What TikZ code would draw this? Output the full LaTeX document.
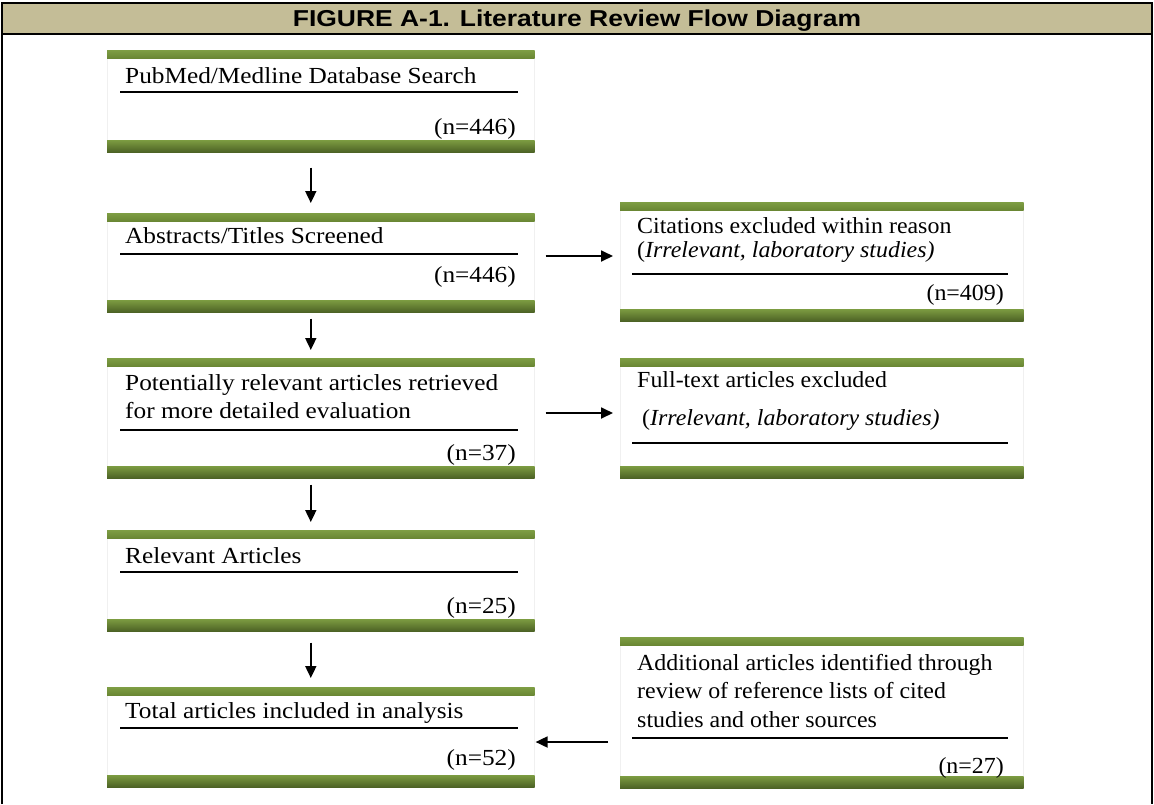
\documentclass[tikz,border=0pt]{standalone}
\usepackage{fontspec}
\setmainfont{Liberation Serif}[FakeStretch=1.1]
\newfontfamily\rightfont{Liberation Serif}[FakeStretch=1.04]
\newfontfamily\titlefont{Liberation Sans}[FakeStretch=1.15]
\usetikzlibrary{calc,arrows.meta}
\definecolor{headtan}{HTML}{C4BD97}
\definecolor{barA}{HTML}{7E9E44}
\definecolor{barB}{HTML}{6A8734}
\definecolor{barC}{HTML}{7A9940}
\definecolor{barD}{HTML}{4B6024}
\tikzset{
  boxshape/.style={rectangle, draw=gray!12, line width=0.6pt, fill=white, inner sep=0pt},
  txt/.style={anchor=base west, inner sep=0pt, font=\fontsize{23}{28}\selectfont},
  ntxt/.style={anchor=base east, inner sep=0pt, font=\fontsize{23}{28}\selectfont},
  rtxt/.style={anchor=base west, inner sep=0pt, font=\rightfont\fontsize{23}{28}\selectfont},
  rntxt/.style={anchor=base east, inner sep=0pt, font=\rightfont\fontsize{23}{28}\selectfont},
  uline/.style={line width=2pt, black},
  arr/.style={line width=1.8pt, -{Triangle[length=12pt,width=11pt]}},
}
\newcommand\flowbox[5]{%
  \node[boxshape, minimum width=#4pt, minimum height=#5pt, anchor=north west] (#1) at (#2,#3) {};
  \shade[top color=barA, bottom color=barB] (#1.north west) rectangle ([yshift=-8pt]#1.north east);
  \shade[top color=barC, bottom color=barD] ([yshift=12pt]#1.south west) rectangle (#1.south east);
}
\begin{document}
\begin{tikzpicture}[x=1pt,y=-1pt]
\useasboundingbox (0,0) rectangle (1154,804);
\fill[white] (0,0) rectangle (1154,804);
% header
\fill[headtan] (2,3) rectangle (1152,34);
\draw[line width=2pt] (2,804) -- (2,3) -- (1152,3) -- (1152,804);
\draw[line width=2pt] (2,34) -- (1152,34);
\node[anchor=base, inner sep=0pt, font=\titlefont\bfseries\fontsize{23}{26}\selectfont] (title) at (577,26) {FIGURE A-1. Literature Review Flow Diagram};

% left column
\flowbox{b1}{107}{50}{427}{102}
\node[txt] (t1) at (125,83) {PubMed/Medline Database Search};
\draw[uline] (120,92) -- (518,92);
\node[ntxt] (n1) at (516,134) {(n=446)};

\flowbox{b2}{107}{213}{427}{99}
\node[txt] (t2) at (125,243) {Abstracts/Titles Screened};
\draw[uline] (120,254) -- (518,254);
\node[ntxt] (n2) at (516,282) {(n=446)};

\flowbox{b3}{107}{358}{427}{120}
\node[txt] (t3a) at (125,390) {Potentially relevant articles retrieved};
\node[txt] (t3b) at (125,418) {for more detailed evaluation};
\draw[uline] (120,430) -- (518,430);
\node[ntxt] (n3) at (516,460) {(n=37)};

\flowbox{b4}{107}{530}{427}{101}
\node[txt] (t4) at (125,563) {Relevant Articles};
\draw[uline] (120,572) -- (518,572);
\node[ntxt] (n4) at (516,613) {(n=25)};

\flowbox{b5}{107}{687}{427}{100}
\node[txt] (t5) at (125,718) {Total articles included in analysis};
\draw[uline] (120,728) -- (518,728);
\node[ntxt] (n5) at (516,765) {(n=52)};

% right column
\flowbox{r1}{620}{202}{403}{119}
\node[rtxt] (u1a) at (637,233) {Citations excluded within reason};
\node[rtxt] (u1b) at (637,257) {(\textit{Irrelevant, laboratory studies)}};
\draw[uline] (632,274) -- (1008,274);
\node[rntxt] (m1) at (1004,300) {(n=409)};

\flowbox{r2}{620}{358}{403}{120}
\node[rtxt] (u2a) at (637,387) {Full-text articles excluded};
\node[rtxt] (u2b) at (642,425) {(\textit{Irrelevant, laboratory studies)}};
\draw[uline] (632,443) -- (1008,443);

\flowbox{r3}{620}{637}{403}{151}
\node[rtxt] (u3a) at (637,670) {Additional articles identified through};
\node[rtxt] (u3b) at (637,698) {review of reference lists of cited};
\node[rtxt] (u3c) at (637,727) {studies and other sources};
\draw[uline] (632,738) -- (1008,738);
\node[rntxt] (m3) at (1004,773) {(n=27)};

% connectors
\draw[arr] ($(b1.south)+(-10,15)$) -- ($(b2.north)+(-10,-10)$);
\draw[arr] ($(b2.south)+(-10,6)$) -- ($(b3.north)+(-10,-8)$);
\draw[arr] ($(b3.south)+(-10,6)$) -- ($(b4.north)+(-10,-8)$);
\draw[arr] ($(b4.south)+(-10,11)$) -- ($(b5.north)+(-10,-9)$);
\draw[arr] ($(b2.east |- 0,256)+(11,0)$) -- ($(r1.west |- 0,256)+(-7,0)$);
\draw[arr] ($(b3.east |- 0,413)+(11,0)$) -- ($(r2.west |- 0,413)+(-7,0)$);
\draw[arr] ($(r3.west |- 0,742)+(-12,0)$) -- ($(b5.east |- 0,742)+(1,0)$);
\end{tikzpicture}
\end{document}
